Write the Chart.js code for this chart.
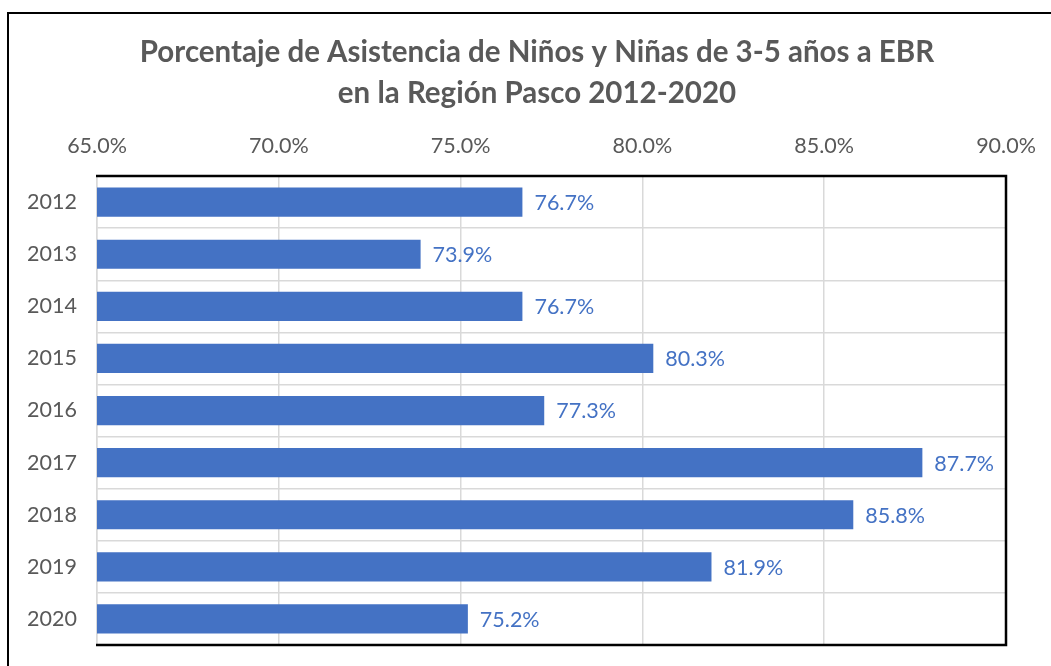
<!DOCTYPE html>
<html>
<head>
<meta charset="utf-8">
<script src="https://cdn.jsdelivr.net/npm/chart.js@4/dist/chart.umd.min.js"></script>
<style>
  html, body { margin: 0; padding: 0; background: #fff; overflow: hidden; }
  #frame { position: absolute; left: 7px; top: 12px; width: 1100px; height: 700px; border: 2px solid #000; }
  #wrap { position: absolute; left: 0; top: 0; width: 1051px; height: 666px; }
</style>
</head>
<body>
<div id="frame"></div>
<div id="wrap"><canvas id="c" width="1051" height="666"></canvas></div>
<script>
const titleLines = ["Porcentaje de Asistencia de Niños y Niñas de 3-5 años a EBR", "en la Región Pasco 2012-2020"];
const years = ["2012", "2013", "2014", "2015", "2016", "2017", "2018", "2019", "2020"];
const attendance = [0.767, 0.739, 0.767, 0.803, 0.773, 0.877, 0.858, 0.819, 0.752];
const axisMin = 0.65;
const axisMax = 0.90;
const axisStep = 0.05;

const pct = v => (v * 100).toFixed(1) + '%';

const valueLabels = {
  id: 'valueLabels',
  afterDatasetsDraw(chart) {
    const ctx = chart.ctx;
    const meta = chart.getDatasetMeta(0);
    ctx.save();
    ctx.font = '21.5px Lato';
    ctx.fillStyle = '#4472C4';
    ctx.textBaseline = 'middle';
    ctx.textAlign = 'left';
    meta.data.forEach((bar, i) => {
      ctx.fillText(pct(chart.data.datasets[0].data[i]), bar.x + 12, bar.y + 1);
    });
    ctx.restore();
  }
};

const plotBorder = {
  id: 'plotBorder',
  afterLayout(chart) {
    // let the year labels extend left of the y-axis box without being clipped
    chart.scales.y.left = 0;
  },
  afterDraw(chart) {
    const a = chart.chartArea;
    const ctx = chart.ctx;
    ctx.save();
    ctx.strokeStyle = '#000';
    ctx.lineWidth = 2.5;
    ctx.beginPath();
    ctx.moveTo(a.left - 1, a.top);
    ctx.lineTo(a.right, a.top);
    ctx.lineTo(a.right, a.bottom);
    ctx.lineTo(a.left - 1, a.bottom);
    ctx.stroke();
    ctx.restore();
  }
};

new Chart(document.getElementById('c'), {
  type: 'bar',
  data: {
    labels: years,
    datasets: [{
      data: attendance,
      backgroundColor: '#4472C4',
      borderWidth: 0,
      categoryPercentage: 1,
      barPercentage: 0.56
    }]
  },
  options: {
    indexAxis: 'y',
    responsive: false,
    animation: false,
    layout: { padding: { left: 68, right: 45, top: 0, bottom: 21 } },
    plugins: {
      legend: { display: false },
      tooltip: { enabled: false },
      title: {
        display: true,
        text: titleLines,
        color: '#595959',
        font: { family: 'Lato', size: 29.5, weight: 'bold', lineHeight: 1.4 },
        padding: { top: 32, bottom: 0 }
      }
    },
    scales: {
      x: {
        position: 'top',
        min: axisMin,
        max: axisMax,
        ticks: {
          stepSize: axisStep,
          callback: v => pct(v),
          color: '#595959',
          font: { family: 'Lato', size: 21.5 },
          padding: 17,
          maxRotation: 0
        },
        grid: { color: '#D9D9D9', lineWidth: 1.5, drawTicks: false },
        border: { display: false },
        afterFit(scale) { scale.height = 61.5; scale.paddingLeft = 0; scale.paddingRight = 0; }
      },
      y: {
        ticks: {
          color: '#595959',
          font: { family: 'Lato', size: 21.5 },
          padding: 20
        },
        grid: { color: '#D9D9D9', lineWidth: 1.5, drawTicks: false, offset: true },
        border: { display: true, color: '#D9D9D9', width: 1.5 },
        afterFit(scale) { scale.width = 29; scale.paddingTop = 0; scale.paddingBottom = 0; }
      }
    }
  },
  plugins: [valueLabels, plotBorder]
});
</script>
</body>
</html>
